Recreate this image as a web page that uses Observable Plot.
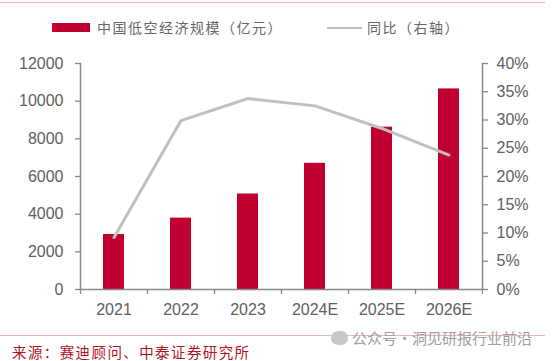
<!DOCTYPE html>
<html>
<head>
<meta charset="utf-8">
<script src="https://cdn.jsdelivr.net/npm/d3@7"></script>
<script src="https://cdn.jsdelivr.net/npm/@observablehq/plot@0.6"></script>
<style>
  html, body { margin: 0; padding: 0; background: #fff; }
  #wrap { position: relative; width: 556px; height: 361px; overflow: hidden; font-family: "Noto Sans CJK SC", sans-serif; }
  #wrap svg { position: absolute; left: 0; top: 0; }
  .hline { position: absolute; left: 0; width: 545px; height: 0; border-top: 1.5px solid #ecb4b8; }
  .legend { position: absolute; top: 17px; font-size: 14px; color: #666; letter-spacing: 1.5px; line-height: 20px; white-space: nowrap; }
  .sw { position: absolute; }
</style>
</head>
<body>
<div id="wrap">
  <div class="hline" style="top:2px"></div>
  <div class="sw" style="left:52px; top:23px; width:38px; height:9px; background:#C00030"></div>
  <div class="legend" style="left:97px">中国低空经济规模（亿元）</div>
  <div class="sw" style="left:327px; top:27px; width:35px; height:0; border-top:2.5px solid #c0c0c0"></div>
  <div class="legend" style="left:367px">同比（右轴）</div>
  <div class="hline" style="top:335px; z-index:1"></div>
  <div style="position:absolute; left:331px; top:331px; width:17px; height:14px; border-radius:8px; background:#c8c8c8; z-index:2"></div>
  <div style="position:absolute; left:352px; top:328px; font-size:15px; color:#a0a0a0; white-space:nowrap; z-index:2; line-height:20px">公众号·洞见研报行业前沿</div>
  <div style="position:absolute; left:12px; top:344px; font-size:14.5px; color:#b0141e; letter-spacing:1.4px; white-space:nowrap; line-height:16px">来源：赛迪顾问、中泰证券研究所</div>
</div>
<script>
const years = ["2021", "2022", "2023", "2024E", "2025E", "2026E"];
const scale = [2920, 3790, 5070, 6700, 8620, 10650];
const yoy = [0.092, 0.299, 0.338, 0.325, 0.285, 0.238];
const leftTicks = [0, 2000, 4000, 6000, 8000, 10000, 12000];
const rightTicks = [0, 0.05, 0.10, 0.15, 0.20, 0.25, 0.30, 0.35, 0.40];

const data = years.map((y, i) => ({year: y, value: scale[i], yoy: yoy[i]}));
const ratio = 12000 / 0.40;

const W = 556, H = 361;
const mL = 80, mR = 74, mT = 63, mB = 72;
const step = (W - mL - mR) / years.length;
const axisColor = "#888";
const labelColor = "#606060";
const fontFamily = "'Liberation Sans', Arial, sans-serif";

const chart = Plot.plot({
  width: W, height: H,
  marginLeft: mL, marginRight: mR, marginTop: mT, marginBottom: mB,
  style: {fontFamily, fontSize: "16px", color: labelColor, background: "transparent"},
  x: {domain: years, paddingInner: 0.69, paddingOuter: 0.345, axis: null},
  y: {domain: [0, 12000], axis: null},
  marks: [
    Plot.barY(data, {x: "year", y: "value", fill: "#C00030"}),
    Plot.line(data, {x: "year", y: d => d.yoy * ratio, stroke: "#c0c0c0", strokeWidth: 3}),
    Plot.axisY(leftTicks, {anchor: "left", tickSize: 5, tickPadding: 12, stroke: axisColor, strokeWidth: 1.3, fill: labelColor, tickFormat: d3.format("d"), label: null}),
    Plot.axisY(rightTicks, {anchor: "right", y: d => d * ratio, tickSize: 5, tickPadding: 9, stroke: axisColor, strokeWidth: 1.3, fill: labelColor, tickFormat: d => Math.round(d * 100) + "%", label: null}),
    Plot.axisX(years, {anchor: "bottom", tickSize: 0, tickPadding: 14, fill: labelColor, label: null}),
    Plot.axisX(years, {anchor: "bottom", tickSize: 5, dx: -step / 2, tickFormat: () => "", stroke: axisColor, strokeWidth: 1.3, label: null}),
    Plot.axisX([years[years.length - 1]], {anchor: "bottom", tickSize: 5, dx: step / 2, tickFormat: () => "", stroke: axisColor, strokeWidth: 1.3, label: null}),
    Plot.frame({anchor: "left", stroke: axisColor, strokeWidth: 1.5}),
    Plot.frame({anchor: "right", stroke: axisColor, strokeWidth: 1.5}),
    Plot.frame({anchor: "bottom", stroke: axisColor, strokeWidth: 1.5})
  ]
});
document.getElementById("wrap").prepend(chart);
</script>
</body>
</html>
